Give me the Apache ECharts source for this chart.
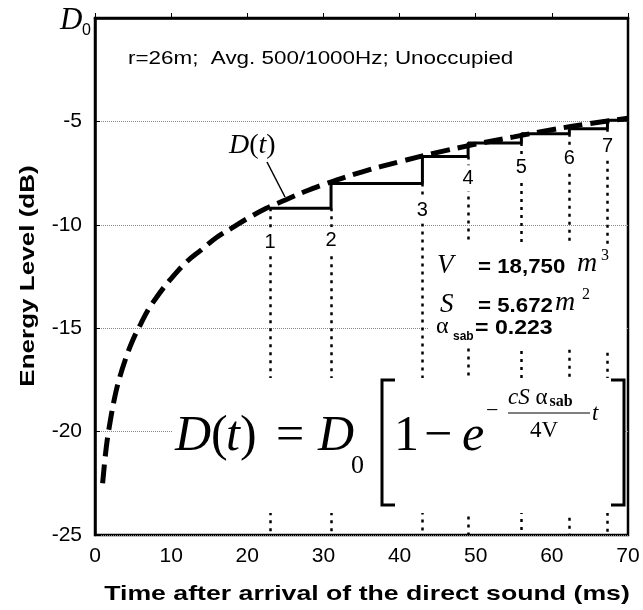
<!DOCTYPE html>
<html><head><meta charset="utf-8">
<script src="https://cdn.jsdelivr.net/npm/echarts@6/dist/echarts.min.js"></script>
<style>html,body{margin:0;padding:0;background:#fff}#c{width:643px;height:610px}</style>
</head><body><div id="c"></div>
<script>
// ---- data ----
const curveT  = [1, 1.5, 2, 2.5, 3, 4, 5, 6, 7, 8, 9, 10, 12, 14, 16, 18, 20, 22.5, 25, 27.5, 30, 35, 40, 45, 50, 55, 60, 65, 70];
const curveDb = [-22.5, -20.7, -19.5, -18.5, -17.7, -16.5, -15.55, -14.8, -14.1, -13.55, -13.05, -12.6, -11.8, -11.2, -10.6, -10.15, -9.7, -9.2, -8.8, -8.4, -8.05, -7.45, -6.95, -6.5, -6.1, -5.75, -5.4, -5.1, -4.85];
const arrivalT  = [23, 31, 43, 49, 56, 62.3, 67.3];
const arrivalDb = [-9.2, -8.0, -6.7, -6.05, -5.6, -5.35, -4.95];
const arrivalNames = ['1', '2', '3', '4', '5', '6', '7'];
const arrivalLabelDb = [-10.85, -10.75, -9.3, -7.75, -7.25, -6.8, -6.2];
const endT = 70;
const xMin = 0, xMax = 70, xStep = 10;
const yMin = -25, yMax = 0, yStep = 5;

// ---- build ----
const SANS = 'Liberation Sans, Arial, sans-serif';
const SERIF = 'Liberation Serif, Times New Roman, serif';
const chart = echarts.init(document.getElementById('c'), null, {renderer: 'canvas'});

const curveData = curveT.map((t, i) => [t, curveDb[i]]);
const stepData = arrivalT.map((t, i) => [t, arrivalDb[i]]);
stepData.push([endT, arrivalDb[arrivalDb.length - 1]]);
const dropLines = arrivalT.map((t, i) => [
  {coord: [t, i === 0 ? arrivalDb[0] : arrivalDb[i - 1]]},
  {coord: [t, yMin]}
]);
const labelData = arrivalT.map((t, i) => [t, arrivalLabelDb[i], arrivalNames[i]]);

function txt(x, y, text, size, opts) {
  opts = opts || {};
  const el = {
    type: 'text', x: x, y: y, z: 20,
    style: Object.assign({
      text: text, fontSize: size, fontFamily: opts.family || SERIF,
      fontStyle: opts.italic ? 'italic' : 'normal',
      fontWeight: opts.bold ? 'bold' : 'normal',
      fill: '#000', align: opts.align || 'left', verticalAlign: 'middle'
    }, opts.style || {})
  };
  if (opts.sx) el.scaleX = opts.sx;
  if (opts.rot) el.rotation = opts.rot;
  return el;
}

const graphics = [
  // axis titles (drawn as text so their width can match the reference)
  txt(367, 594, 'Time after arrival of the direct sound (ms)', 21, {family: SANS, bold: true, align: 'center', sx: 1.27}),
  txt(28, 276, 'Energy Level (dB)', 21, {family: SANS, bold: true, align: 'center', sx: 1.24, rot: Math.PI / 2}),
  // D0 top label
  txt(60, 21, 'D', 31, {italic: true}),
  txt(82, 31, '0', 16, {family: SANS}),
  // header text
  txt(128, 59, 'r=26m;  Avg. 500/1000Hz; Unoccupied', 19, {family: SANS, sx: 1.18}),
  // D(t) label + leader
  {type: 'text', x: 229, y: 146, z: 20, style: {
    text: '{i|D}{n|(}{i|t}{n|)}', align: 'left', verticalAlign: 'middle',
    rich: {i: {fontFamily: SERIF, fontStyle: 'italic', fontSize: 28, fill: '#000'},
           n: {fontFamily: SERIF, fontSize: 28, fill: '#000'}}}},
  {type: 'line', z: 20, shape: {x1: 267, y1: 162, x2: 285, y2: 197}, style: {stroke: '#000', lineWidth: 1.5}},
  // parameter block background
  {type: 'rect', z: 15, shape: {x: 429, y: 244, width: 197, height: 104}, style: {fill: '#fff'}},
  txt(437, 266, 'V', 27, {italic: true}),
  txt(478, 267, '= 18,750', 21, {family: SANS, bold: true, sx: 1.06}),
  txt(577, 264, 'm', 28, {italic: true}),
  txt(601, 256, '3', 16),
  txt(440, 305, 'S', 27, {italic: true}),
  txt(478, 306, '= 5.672', 21, {family: SANS, bold: true, sx: 1.06}),
  txt(555, 303, 'm', 28, {italic: true}),
  txt(582, 295, '2', 16),
  txt(436, 327, 'α', 24),
  txt(453, 337, 'sab', 12, {family: SANS, bold: true}),
  txt(475, 328, '= 0.223', 21, {family: SANS, bold: true, sx: 1.1}),
  // formula background
  {type: 'rect', z: 15, shape: {x: 172, y: 378, width: 452, height: 135}, style: {fill: '#fff'}},
  txt(175, 437, 'D', 50, {italic: true}),
  txt(211, 437, '(', 50),
  txt(226, 437, 't', 50, {italic: true}),
  txt(240, 437, ')', 50),
  txt(276, 437, '=', 50),
  txt(318, 437, 'D', 50, {italic: true}),
  txt(351, 466, '0', 26),
  {type: 'polyline', z: 20, shape: {points: [[395, 380], [382, 380], [382, 505], [395, 505]]}, style: {stroke: '#000', lineWidth: 3, fill: null}},
  txt(394, 437, '1', 50),
  txt(424, 437, '−', 50),
  txt(462, 437, 'e', 50, {italic: true}),
  txt(486, 411, '−', 22),
  {type: 'text', x: 508, y: 398, z: 20, style: {
    text: '{i|cS}{n| α}{b|sab}', verticalAlign: 'middle', align: 'left',
    rich: {
      i: {fontFamily: SERIF, fontStyle: 'italic', fontSize: 23, fill: '#000'},
      n: {fontFamily: SERIF, fontSize: 23, fill: '#000'},
      b: {fontFamily: SERIF, fontWeight: 'bold', fontSize: 16, fill: '#000', padding: [8, 0, 0, 2]}
    }}},
  {type: 'line', z: 20, shape: {x1: 508, y1: 413, x2: 590, y2: 413}, style: {stroke: '#000', lineWidth: 1.2}},
  txt(530, 431, '4V', 23),
  txt(592, 414, 't', 23, {italic: true}),
  {type: 'polyline', z: 20, shape: {points: [[611, 380], [624, 380], [624, 505], [611, 505]]}, style: {stroke: '#000', lineWidth: 3, fill: null}}
];

chart.setOption({
  animation: false,
  backgroundColor: '#fff',
  grid: {left: 95, right: 15, top: 18, bottom: 75, show: true, borderColor: '#000', borderWidth: 2.5, backgroundColor: 'transparent'},
  xAxis: {
    type: 'value', min: xMin, max: xMax, interval: xStep,
    axisLine: {show: true, lineStyle: {color: '#000', width: 2.5}},
    axisTick: {show: true, inside: true, length: 5, lineStyle: {color: '#000', width: 1}},
    axisLabel: {fontFamily: SANS, fontSize: 21, color: '#000', margin: 11},
    splitLine: {show: false}
  },
  yAxis: {
    type: 'value', min: yMin, max: yMax, interval: yStep,
    axisLine: {show: true, lineStyle: {color: '#000', width: 2.5}},
    axisTick: {show: true, inside: true, length: 5, lineStyle: {color: '#000', width: 1}},
    axisLabel: {fontFamily: SANS, fontSize: 21, color: '#000', margin: 13,
      formatter: v => (v === yMax ? '' : String(v))},
    splitLine: {show: true, lineStyle: {color: '#888', width: 1, type: 'dotted'}}
  },
  graphic: graphics,
  series: [
    {
      type: 'line', name: 'drops', data: [], z: 1, silent: true,
      markLine: {symbol: 'none', silent: true, label: {show: false},
        lineStyle: {color: '#000', width: 2.5, type: [3, 5], opacity: 1}, data: dropLines}
    },
    {
      type: 'scatter', name: 'labels', data: labelData, symbolSize: 0, z: 18, silent: true,
      itemStyle: {opacity: 1, color: '#000'},
      label: {show: true, position: 'inside', formatter: p => p.data[2], opacity: 1,
        fontFamily: SANS, fontSize: 20, color: '#000', backgroundColor: '#fff', padding: [3, 1]}
    },
    {
      type: 'line', name: 'steps', data: stepData, step: 'end', showSymbol: false, z: 25,
      lineStyle: {color: '#000', width: 3}
    },
    {
      type: 'line', name: 'D(t)', data: curveData, smooth: 0.4, showSymbol: false, z: 26,
      lineStyle: {color: '#000', width: 5, type: [19, 8]}
    }
  ]
});
</script></body></html>
